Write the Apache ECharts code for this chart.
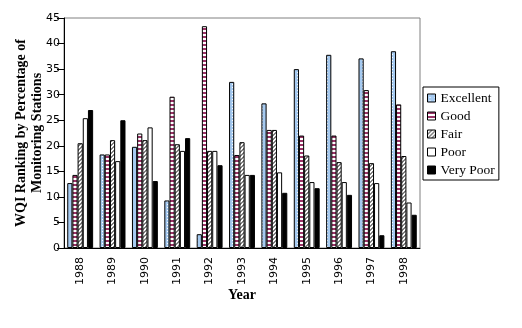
<!DOCTYPE html>
<html><head><meta charset="utf-8">
<script src="https://cdn.jsdelivr.net/npm/echarts@6/dist/echarts.min.js"></script>
<style>html,body{margin:0;padding:0;background:#fff}#c{width:522px;height:328px}</style>
</head><body><div id="c"></div>
<script>
var years = ['1988','1989','1990','1991','1992','1993','1994','1995','1996','1997','1998'];
var excellent = [12.7, 18.3, 19.8, 9.3, 2.7, 32.5, 28.3, 35.0, 37.8, 37.1, 38.5];
var good      = [14.3, 18.3, 22.4, 29.6, 43.4, 18.2, 23.1, 22.0, 22.0, 30.9, 28.1];
var fair      = [20.5, 21.1, 21.1, 20.3, 19.0, 20.7, 23.1, 18.1, 16.8, 16.6, 18.0];
var poor      = [25.4, 17.0, 23.6, 19.0, 19.0, 14.3, 14.8, 12.9, 12.9, 12.7, 8.9];
var veryPoor  = [27.0, 25.0, 13.1, 21.5, 16.2, 14.3, 10.8, 11.7, 10.4, 2.5, 6.5];
var yTicks = [0,5,10,15,20,25,30,35,40,45];

function pattern(draw, w, h){
  var c = document.createElement('canvas'); c.width = w; c.height = h;
  var g = c.getContext('2d'); draw(g, w, h);
  return {image: c, repeat: 'repeat'};
}
var pExcellent = pattern(function(g,w,h){ g.fillStyle='#a6caf0'; g.fillRect(0,0,w,h); g.fillStyle='#ffffff'; g.fillRect(2,0,1,1); }, 5, 3);
var pGood = pattern(function(g,w,h){ g.fillStyle='#993366'; g.fillRect(0,0,w,h); g.fillStyle='#ffffff'; g.fillRect(0,2,w,2); }, 4, 4);
var pFair = pattern(function(g,w,h){ g.fillStyle='#ffffff'; g.fillRect(0,0,w,h); g.fillStyle='#808080';
  for (var i=0;i<w;i++){ g.fillRect(i,(h-1-i+h)%h,1,1); g.fillRect(i,(h-i+h)%h,1,1);} }, 4, 4);

var serif = 'Liberation Serif';
var chart = echarts.init(document.getElementById('c'));
function s(name, data, color){
  return {name:name, type:'bar', data:data, barGap:'0%', barCategoryGap:'20%',
    itemStyle:{color:color, borderColor:'#000', borderWidth:1}, animation:false};
}
chart.setOption({
  animation:false,
  textStyle:{fontFamily:serif},
  grid:{left:64, right:102, top:18, bottom:80, show:true, borderColor:'#808080', borderWidth:1,
    outerBoundsMode:'none', containLabel:false},
  legend:{orient:'vertical', left:423, top:87, itemWidth:8, itemHeight:8, itemGap:4, itemTextGap:3,
    icon:'rect',
    borderColor:'#000', borderWidth:1, padding:[4,4,3,4],
    textStyle:{fontFamily:serif, fontSize:13.5, color:'#000', lineHeight:13},
    itemStyle:{borderColor:'#000', borderWidth:1},
    data:['Excellent','Good','Fair','Poor','Very Poor']},
  xAxis:{type:'category', data:years, name:'Year', nameLocation:'middle', nameGap:40, nameMoveOverlap:false,
    nameTextStyle:{fontFamily:serif, fontWeight:'bold', fontSize:14, color:'#000'},
    axisLine:{lineStyle:{color:'#000'}}, axisTick:{length:4, lineStyle:{color:'#000'}},
    axisLabel:{rotate:90, fontFamily:'DejaVu Sans', fontSize:11, color:'#000', margin:9}},
  yAxis:{type:'value', min:0, max:45, interval:5,
    name:'WQI Ranking by Percentage of\nMonitoring Stations', nameLocation:'middle', nameGap:19, nameRotate:90, nameMoveOverlap:false,
    nameTextStyle:{fontFamily:serif, fontWeight:'bold', fontSize:14, color:'#000', lineHeight:16},
    axisLine:{show:true, lineStyle:{color:'#000'}}, axisTick:{show:true, length:7, lineStyle:{color:'#000'}},
    splitLine:{show:false},
    axisLabel:{fontFamily:'DejaVu Sans', fontSize:11, color:'#000', margin:4,
      formatter:function(v){ return yTicks.indexOf(v)>=0 ? String(v) : ''; }}},
  series:[s('Excellent',excellent,pExcellent), s('Good',good,pGood), s('Fair',fair,pFair),
          s('Poor',poor,'#ffffff'), s('Very Poor',veryPoor,'#000000')]
});
</script></body></html>
